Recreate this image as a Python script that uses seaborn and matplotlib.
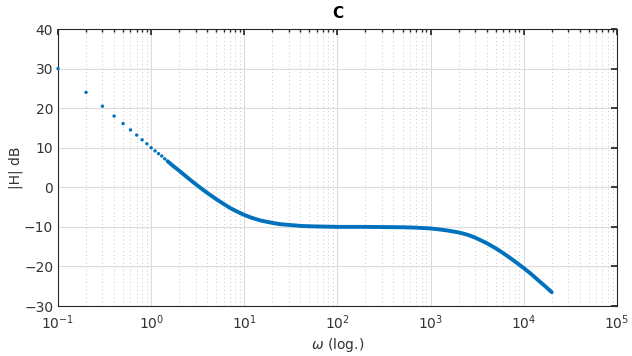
import numpy as np
import pandas as pd
import matplotlib
matplotlib.use("Agg")
import matplotlib.pyplot as plt
import seaborn as sns
from matplotlib.ticker import LogLocator, NullFormatter

# low-frequency samples, visible as separate dots
w_low = [0.1, 0.2, 0.3, 0.4, 0.5, 0.6, 0.7, 0.8, 0.9, 1.0, 1.1, 1.2, 1.3, 1.4]
db_low = [30.0, 24.0, 20.5, 18.0, 16.1, 14.5, 13.2, 12.0, 11.0, 10.0, 9.2, 8.5, 7.9, 7.2]

# dense part, merges into a thick curve
w_dense = [1.5, 1.7, 2, 2.5, 3, 3.5, 4, 5, 6, 7, 8, 10, 12, 15, 20, 25, 30, 40,
           50, 70, 100, 200, 500, 700, 1000, 1200, 1500, 2000, 2500, 3000,
           4000, 5000, 6000, 7000, 8000, 10000, 12000, 15000, 17000, 20000]
db_dense = [6.6, 5.5, 4.2, 2.3, 0.8, -0.4, -1.4, -3.0, -4.2, -5.2, -5.9, -7.0,
            -7.7, -8.4, -9.0, -9.35, -9.5, -9.75, -9.85, -9.93, -10.0, -10.0,
            -10.1, -10.2, -10.4, -10.6, -10.9, -11.4, -12.0, -12.7, -14.1,
            -15.4, -16.6, -17.7, -18.7, -20.4, -21.9, -23.9, -25.0, -26.5]

blue = "#0072BD"
dark = "#262626"

sns.set_theme(style="white")
plt.rcParams["font.family"] = ["DejaVu Sans"]

fig = plt.figure(figsize=(6.32, 3.56), dpi=100)
ax = fig.add_axes([0.0918, 0.1404, 0.8842, 0.7781])

low = pd.DataFrame({"w": w_low, "db": db_low})
dense = pd.DataFrame({"w": w_dense, "db": db_dense})

sns.lineplot(data=dense, x="w", y="db", ax=ax, color=blue, linewidth=2.8,
             solid_capstyle="round", solid_joinstyle="round")
sns.scatterplot(data=low, x="w", y="db", ax=ax, color=blue, s=6,
                edgecolor="none", zorder=3, clip_on=False)

ax.set_xscale("log")
ax.set_xlim(0.1, 1e5)
ax.set_ylim(-30, 40)
ax.set_yticks(range(-30, 41, 10))
ax.xaxis.set_major_locator(LogLocator(base=10, numticks=10))
ax.xaxis.set_minor_locator(LogLocator(base=10, subs=np.arange(2, 10), numticks=100))
ax.xaxis.set_minor_formatter(NullFormatter())

ax.grid(True, which="major", color="#dcdcdc", linewidth=0.8, linestyle="-")
ax.grid(True, which="minor", axis="x", color="#c8c8c8", linewidth=0.7,
        linestyle=(0, (1, 3)))
ax.set_axisbelow(True)

for s in ax.spines.values():
    s.set_color(dark)
    s.set_linewidth(0.8)
ax.tick_params(which="both", direction="in", top=True, right=True,
               colors=dark, labelsize=10, labelcolor="#333333")
ax.tick_params(which="major", length=4)
ax.tick_params(which="minor", length=2)
ax.tick_params(axis="x", which="major", pad=5)

ax.set_xlabel(r"$\omega$ (log.)", fontsize=10, color="#333333", labelpad=3)
ax.set_ylabel("|H| dB", fontsize=10, color="#333333", labelpad=1)
ax.set_title("C", fontsize=11, fontweight="bold", color="black", pad=8)

fig.savefig("out.png", dpi=100)
